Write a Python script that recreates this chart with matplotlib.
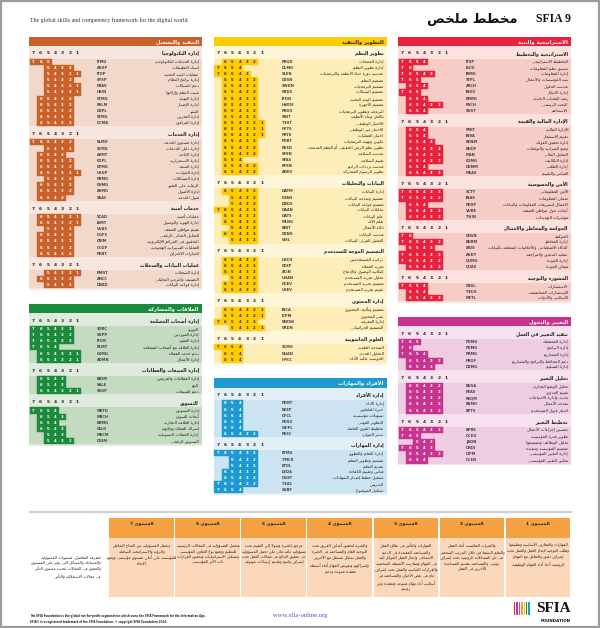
import textwrap
import matplotlib
matplotlib.use("Agg")
import matplotlib.pyplot as plt
from matplotlib.patches import Rectangle

plt.rcParams['font.family'] = ['DejaVu Sans']

# ---------------- data ----------------
# (code, arabic name, lowest level, highest level)
tech_mgmt = [("ITMG", "إدارة الخدمات التكنولوجية", 5, 7), ("ASUP", "إسناد التطبيقات", 2, 5),
             ("ITOP", "عمليات البنية التحتية", 1, 5), ("SYSP", "إدارة برامج النظام", 2, 5),
             ("NTAS", "دعم الشبكات", 1, 5), ("HSIN", "تثبيت النظم وإزالتها", 1, 5),
             ("CFMG", "إدارة التهيئة", 2, 6), ("RELM", "إدارة الإصدار", 2, 6),
             ("DEPL", "النشر", 2, 6), ("STMG", "إدارة التخزين", 2, 6), ("DCMA", "إدارة المرافق", 2, 6)]
service_mgmt = [("SLMO", "إدارة مستوى الخدمة", 2, 7), ("SCMG", "إدارة دليل الخدمات", 2, 5),
                ("AVMT", "إدارة الإتاحة", 3, 6), ("COPL", "إدارة الاستمرارية", 2, 6),
                ("CPMG", "إدارة السعة", 2, 6), ("USUP", "إدارة الحوادث", 1, 6),
                ("PBMG", "إدارة المشكلات", 2, 5), ("CHMG", "الرقابة على التغيير", 2, 6),
                ("ASMG", "إدارة الأصول", 2, 6), ("SEAC", "قبول الخدمة", 3, 6)]
security_serv = [("SCAD", "عمليات أمنية", 1, 6), ("IAMT", "إدارة الهوية والوصول", 1, 6),
                 ("VUAS", "تقييم مواطن الضعف", 2, 5), ("DGFS", "التحليل الجنائي الرقمي", 2, 6),
                 ("CRIM", "التحقيق في الجرائم الإلكترونية", 2, 6), ("OCOP", "العمليات السيبرانية الهجومية", 2, 6),
                 ("PENT", "اختبارات الاختراق", 2, 6)]
data_records = [("RMGT", "إدارة السجلات", 1, 5), ("ANCC", "التصنيف والترميز التحليلي", 2, 6),
                ("DBAD", "إدارة قواعد البيانات", 2, 5)]

stakeholder = [("SORC", "التوريد", 2, 7), ("SUPP", "إدارة الموردين", 2, 7), ("ITCM", "إدارة العقود", 2, 7),
               ("RLMT", "إدارة العلاقة مع أصحاب المصلحة", 4, 7), ("CSMG", "دعم خدمة العملاء", 1, 6),
               ("ADMN", "إدارة الأعمال", 1, 6)]
sales_bid = [("BIDM", "إدارة العطاءات والعروض", 3, 6), ("SALE", "البيع", 3, 6), ("SSUP", "دعم المبيعات", 1, 6)]
marketing = [("MKTG", "إدارة التسويق", 4, 7), ("MRCH", "أبحاث السوق", 3, 6),
             ("BRMG", "إدارة العلامة التجارية", 4, 6), ("CELO", "إشراك العملاء وولائهم", 3, 6),
             ("MKCM", "إدارة الحملات التسويقية", 3, 5), ("DIGM", "التسويق الرقمي", 2, 5)]

sys_dev = [("PROD", "إدارة المنتجات", 2, 6), ("DLMG", "إدارة تطوير النظم", 4, 7),
           ("SLEN", "هندسة دورة حياة الأنظمة والبرمجيات", 3, 7), ("DESN", "تصميم النظم", 2, 6),
           ("SWDN", "تصميم البرمجيات", 2, 6), ("NTDS", "تصميم الشبكات", 2, 6),
           ("IFDN", "تصميم البنية التحتية", 2, 6), ("HWDE", "تصميم الأجهزة", 2, 6),
           ("PROG", "البرمجة وتطوير البرمجيات", 2, 6), ("SINT", "تكامل وبناء الأنظمة", 2, 6),
           ("TEST", "الاختبار الوظيفي", 1, 6), ("NFTS", "الاختبار غير الوظيفي", 1, 6),
           ("PRTS", "اختبار العمليات", 1, 6), ("PORT", "تكوين وتهيئة البرمجيات", 2, 6),
           ("RESD", "تطوير نظم الزمن الحقيقي أو النظم المدمجة", 2, 6), ("SFEN", "هندسة السلامة", 2, 6),
           ("SFAS", "تقييم السلامة", 4, 6), ("RFEN", "هندسة ترددات الراديو", 2, 6),
           ("ADEV", "تطوير الرسوم المتحركة", 2, 6)]
data_analytics = [("DATM", "إدارة البيانات", 2, 6), ("DTAN", "تصميم ونمذجة البيانات", 2, 5),
                  ("DBDS", "تصميم قواعد البيانات", 2, 5), ("DAAN", "تحليلات البيانات", 2, 7),
                  ("DATS", "علم البيانات", 2, 6), ("MLNG", "تعلم الآلة", 2, 6),
                  ("BINT", "ذكاء الأعمال", 2, 5), ("DENG", "هندسة البيانات", 2, 6),
                  ("VISL", "التمثيل المرئي للبيانات", 2, 5)]
user_design = [("URCH", "دراسة المستخدمين", 2, 6), ("CEXP", "تجربة العملاء", 2, 6),
               ("ACIN", "إمكانية الوصول والإدماج", 2, 6), ("UNAN", "تحليل تجربة المستخدم", 2, 5),
               ("HCEV", "تصميم تجربة المستخدم", 2, 6), ("USEV", "تقييم تجربة المستخدم", 2, 6)]
content_mgmt = [("INCA", "تصميم وتأليف المحتوى", 1, 6), ("ICPM", "نشر المحتوى", 1, 6),
                ("KNOW", "إدارة المعرفة", 2, 7), ("GRDN", "التصميم الجرافيكي", 1, 5)]
comp_science = [("SCMO", "النمذجة العلمية", 4, 7), ("NUAN", "التحليل العددي", 4, 6),
                ("HPCC", "الحوسبة عالية الأداء", 4, 6)]

people_mgmt = [("PEMT", "إدارة الأداء", 4, 6), ("EEXP", "خبرة العاملين", 4, 6),
               ("OFCL", "تسهيلات مؤسسية", 4, 6), ("PDSV", "التطوير المهني", 4, 6),
               ("WFPL", "تخطيط القوى العاملة", 4, 6), ("RESC", "تدبير الموارد", 2, 6)]
skill_mgmt = [("ETMG", "إدارة التعلم والتطوير", 2, 7), ("TMCR", "تصميم وتطوير التعلم", 2, 5),
              ("ETDL", "تقديم التعلم", 2, 5), ("LEDA", "قياس وتقييم الكفاءة", 2, 6),
              ("CSOP", "تشغيل خطط إصدار الشهادات", 2, 6), ("TEAC", "التدريس", 2, 7),
              ("SUBF", "تشكيل الموضوع", 4, 7)]

strat_plan = [("ITSP", "التخطيط الاستراتيجي", 4, 7), ("ISCO", "تنسيق نظم المعلومات", 6, 7),
              ("IRMG", "إدارة المعلومات", 3, 7), ("STPL", "بنية المؤسسات والأعمال", 5, 7),
              ("ARCH", "هندسة الحلول", 4, 6), ("INOV", "إدارة الابتكار", 5, 7),
              ("EMRG", "رصد التقنيات الناشئة", 4, 6), ("RSCH", "البحث الرسمي", 2, 6),
              ("SUST", "الاستدامة", 4, 6)]
fin_value = [("FMIT", "الإدارة المالية", 4, 6), ("INVA", "تقييم الاستثمار", 4, 6),
             ("BENM", "إدارة تحقيق الفوائد", 3, 6), ("BUDF", "وضع الميزانية والتوقعات", 2, 6),
             ("FIAN", "التحليل المالي", 2, 6), ("COMG", "إدارة التكاليف", 2, 6),
             ("DEMM", "إدارة الطلب", 4, 6), ("MEAS", "القياس والتقييم", 2, 6)]
sec_privacy = [("SCTY", "الأمن المعلوماتي", 2, 7), ("INAS", "ضمان المعلومات", 2, 7),
               ("PEDP", "الامتثال لتشريعات المعلومات والبيانات", 4, 6),
               ("VURE", "أبحاث حول مواطن الضعف", 2, 6), ("THIN", "مؤشرات التهديدات", 2, 6)]
gov_risk = [("GOVN", "الحوكمة", 6, 7), ("BURM", "إدارة المخاطر", 2, 7),
            ("AIDE", "الذكاء الاصطناعي والأخلاقيات المتعلقة بالبيانات", 3, 6),
            ("AUDT", "عملية التدقيق والمراجعة", 2, 7), ("QUMG", "إدارة الجودة", 2, 7),
            ("QUAS", "ضمان الجودة", 2, 6)]
advice = [("CNSL", "الاستشارات", 4, 7), ("TECH", "الاستشارات المتخصصة", 4, 6),
          ("METL", "الأساليب والأدوات", 2, 6)]

change_impl = [("POMG", "إدارة المحفظة", 5, 7), ("PGMG", "إدارة البرامج", 6, 7),
               ("PRMG", "إدارة المشاريع", 4, 7), ("PROF", "دعم المحافظ والبرامج والمشاريع", 2, 6),
               ("DEMG", "إدارة التسليم", 3, 6)]
change_anal = [("BUSA", "تحليل الوضع التجاري", 2, 6), ("FEAS", "تقييم الجدوى", 2, 6),
               ("REQM", "تحديد وإدارة الاحتياجات", 2, 6), ("BSMO", "نمذجة الأعمال", 2, 6),
               ("BPTS", "اختبار قبول المستخدم", 2, 6)]
change_plan = [("BPRE", "تحسين إجراءات الأعمال", 2, 7), ("OCDV", "تطوير قدرة المؤسسة", 5, 7),
               ("JADN", "تحليل الوظائف وتصميمها", 3, 5), ("ORDI", "تصميم المؤسسة وتنفيذه", 3, 7),
               ("CIPM", "إدارة التغيير المؤسسي", 2, 6), ("OCEN", "تمكين التغيير المؤسسي", 4, 6)]

level_nums = [7, 6, 5, 4, 3, 2, 1]
level_desc = [
    "وتحمل المسؤولية عن النجاح الشامل والرؤية والاستراتيجية الشاملة للمؤسسة على أعلى مستوى مؤسسي ووضع الاتجاه",
    "وتحمل المسؤولية في المجالات الرئيسية للتنظيم ووضع نوع التعاون المؤسسي وتشكيل الاستراتيجيات وتحقيق القرارات ذات الأثر المؤسسي",
    "مرجع بالخبرة وصولا إلى التقييم تحت مسؤولية عامة قادر على تحمل المسؤولية في تحقيق النتائج في مجالات العمل تحت إشراف واسع وتقديم إرشادات موثوقة",
    "والخبرة لتحقيق أهداف الفريق تحت التوجيه العام والمساهمة في الخبرة والعمل بشكل مستقل مع الآخرين وإشراكهم وتفويض المهام أثناء أنشطة معقدة متنوعة ودعم",
    "المهارات والتأثير في نطاق العمل والمساهمة المعتمدة في الدعم الاستباقي وإنجاز العمل الموكل إليه في المهام وممارسة الأنشطة الشخصية والقرارات القياسية والعمل تحت إشراف عام في بعض الأحيان والمساهمة في أساليب أداء مهام متنوعة ومعقدة وغير روتينية",
    "والخبرات المكتسبة أثناء العمل والتعلم النشط من خلال التدريب الشخصي في حل المشكلات الروتينية تحت إشراف روتيني والمساهمة بتقديم المساعدة للآخرين في العمل",
    "المهارات والمعارف الأساسية وتطبيقها وطلب التوجيه لإنجاز العمل والعمل تحت إشراف دقيق والتعامل مع المهام الروتينية أثناء أداء المهام الوظيفية",
]
levels_note = "لمعرفة التفاصيل، مستويات المسؤولية والمساءلة والمسائل التي تؤثر على المستوى والتعمق في المجالات لتحديد مستوى التأثير في مجالات الاستقلالية والتأثير"

# ---------------- arabic shaping (matplotlib does no joining / bidi) ----------------
_letters = "ءآأؤإئابةتثجحخدذرزسشصضطظعغفقكلمنهوىي"
_nforms = [1, 2, 2, 2, 2, 4, 2, 4, 2, 4, 4, 4, 4, 4, 2, 2, 2, 2, 4, 4,
           4, 4, 4, 4, 4, 4, 4, 4, 4, 4, 4, 4, 4, 2, 2, 4]
FORMS = {}
_b = 0xFE80
for _c, _n in zip(_letters, _nforms):
    FORMS[_c] = (_b, _n)
    _b += _n
LAMALEF = {"آ": 0xFEF5, "أ": 0xFEF7, "إ": 0xFEF9, "ا": 0xFEFB}


def ar(s):
    res = []
    i = 0
    n = len(s)
    while i < n:
        c = s[i]
        if c not in FORMS:
            res.append(c)
            i += 1
            continue
        prev = s[i - 1] if i > 0 else ''
        cprev = prev in FORMS and FORMS[prev][1] == 4
        if c == 'ل' and i + 1 < n and s[i + 1] in LAMALEF:
            res.append(chr(LAMALEF[s[i + 1]] + (1 if cprev else 0)))
            i += 2
            continue
        nxt = s[i + 1] if i + 1 < n else ''
        base, cnt = FORMS[c]
        cnext = cnt == 4 and nxt in FORMS and FORMS[nxt][1] > 1
        if cnt == 1:
            f = 0
        elif cprev and cnext:
            f = 3
        elif cprev:
            f = 1
        elif cnext:
            f = 2
        else:
            f = 0
        res.append(chr(base + f))
        i += 1
    return ''.join(res[::-1])


# ---------------- figure ----------------
fig = plt.figure(figsize=(6, 6.28), dpi=100)
ax = fig.add_axes([0, 0, 1, 1])
ax.set_xlim(0, 600)
ax.set_ylim(628, 0)
ax.axis('off')

ax.add_patch(Rectangle((0.8, 0.8), 598.4, 626.4, fill=False, ec='#9b9b9b', lw=1.6))

ax.text(571, 19, "SFIA 9", ha='right', va='center', fontsize=8.5, family='Liberation Serif',
        fontweight='bold', color='#111')
ax.text(518, 19, ar("مخطط ملخص"), ha='right', va='center', fontsize=9.5, fontweight='bold', color='#111')
ax.text(30, 20, "The global skills and competency framework for the digital world", ha='left', va='center',
        fontsize=4.2, family='Liberation Serif', color='#333')

PITCH = 6.13
CELL = 7.3
W = 173


def draw_panel(x0, top, title, pal, groups):
    head, band, light, tcol = pal
    y = top + 9.5 + 7.5
    layout = []
    for gname, rows in groups:
        first = y + 8.3
        last = first + (len(rows) - 1) * PITCH
        layout.append((gname, rows, y, first, last))
        y = last + 11
    bottom = layout[-1][4] + 5
    ax.add_patch(Rectangle((x0, top + 9.5), W, bottom - top - 9.5, color=light, lw=0))
    ax.add_patch(Rectangle((x0, top), W, 9.5, color=head, lw=0))
    ax.text(x0 + W - 3, top + 4.9, ar(title), ha='right', va='center', fontsize=3.8,
            color=tcol, fontweight='bold')
    for gname, rows, sub, first, last in layout:
        ax.add_patch(Rectangle((x0, first - PITCH / 2), W, last - first + PITCH, color=band, lw=0))
        for k, lv in enumerate(level_nums):
            ax.text(x0 + 0.7 + (k + 0.5) * CELL, sub, str(lv), ha='center', va='center',
                    fontsize=3.2, fontweight='bold', color='#222')
        ax.text(x0 + W - 3, sub, ar(gname), ha='right', va='center', fontsize=3.3,
                fontweight='bold', color='#222')
        for j, (code, name, lo, hi) in enumerate(rows):
            yc = first + j * PITCH
            for lv in range(lo, hi + 1):
                k = level_nums.index(lv)
                cx = x0 + 0.7 + k * CELL
                ax.add_patch(Rectangle((cx, yc - PITCH / 2), CELL, PITCH, fc=head, ec=head, lw=0.3))
                ax.text(cx + CELL / 2, yc, str(lv), ha='center', va='center', fontsize=2.8,
                        fontweight='bold', color='white' if tcol == 'white' else '#333')
            ax.text(x0 + 68, yc, code, ha='left', va='center', fontsize=2.6, fontweight='bold', color='#444')
            ax.text(x0 + W - 3, yc, ar(name), ha='right', va='center', fontsize=3.0, color='#222')
    return bottom


RED = ('#E8213D', '#F8CCC6', '#FBE2DE', 'white')
YEL = ('#FFCB05', '#FFEDB8', '#FFF5D8', '#222')
ORG = ('#C8622A', '#F1D8CB', '#F6E6DD', 'white')
GRN = ('#1C8A3B', '#C4DAC1', '#DFEBDD', 'white')
BLU = ('#1E9AD0', '#CCE3F1', '#E2EFF7', 'white')
MAG = ('#C7348F', '#EECCE2', '#F6E2EF', 'white')

GAP = 13.5
b = draw_panel(29, 36.5, "التنفيذ والتشغيل", ORG,
               [("إدارة التكنولوجيا", tech_mgmt), ("إدارة الخدمات", service_mgmt),
                ("خدمات أمنية", security_serv), ("عمليات البيانات والسجلات", data_records)])
draw_panel(29, b + GAP, "العلاقات والمشاركة", GRN,
           [("إدارة أصحاب المصلحة", stakeholder), ("إدارة المبيعات والعطاءات", sales_bid),
            ("التسويق", marketing)])

b = draw_panel(213.5, 36.5, "التطوير والتنفيذ", YEL,
               [("تطوير النظم", sys_dev), ("البيانات والتحليلات", data_analytics),
                ("التصميم الموجه للمستخدم", user_design), ("إدارة المحتوى", content_mgmt),
                ("العلوم الحاسوبية", comp_science)])
draw_panel(213.5, b + GAP, "الأفراد والمهارات", BLU,
           [("إدارة الأفراد", people_mgmt), ("إدارة المهارات", skill_mgmt)])

b = draw_panel(398, 36.5, "الاستراتيجية والبنية", RED,
               [("الاستراتيجية والتخطيط", strat_plan), ("الإدارة المالية والقيمة", fin_value),
                ("الأمن والخصوصية", sec_privacy), ("الحوكمة والمخاطر والامتثال", gov_risk),
                ("المشورة والتوجيه", advice)])
draw_panel(398, b + GAP, "التغيير والتحول", MAG,
           [("تنفيذ التغيير في العمل", change_impl), ("تحليل التغيير", change_anal),
            ("تخطيط التغيير", change_plan)])

# ---------------- levels of responsibility ----------------
ax.plot([30, 571], [511.5, 511.5], color='#cfcfcf', lw=1.6)
tx0, tx1 = 108.8, 571
cw = (tx1 - tx0) / len(level_nums)
for k, (lv, desc) in enumerate(zip(level_nums, level_desc)):
    x = tx0 + k * cw
    ax.add_patch(Rectangle((x + 0.6, 518), cw - 1.2, 20, color='#F5A142', lw=0))
    ax.add_patch(Rectangle((x + 0.6, 538), cw - 1.2, 59, color='#FCD7BA', lw=0))
    ax.text(x + cw / 2, 523.5, ar("المستوى %d" % lv), ha='center', va='center', fontsize=3.2,
            fontweight='bold', color='#222')
    lines = [ar(t) for t in textwrap.wrap(desc, 36)]
    ax.text(x + cw / 2, 543.5, "\n".join(lines), ha='center', va='top', fontsize=2.7,
            linespacing=1.45, color='#222')

note = [ar(t) for t in textwrap.wrap(levels_note, 40)]
ax.text(101, 567, "\n".join(note), ha='right', va='center', fontsize=2.7, linespacing=1.45,
        multialignment='right', color='#222')

# ---------------- footer ----------------
ax.text(30, 616, "The SFIA Foundation is the global not-for-profit organisation which owns the SFIA Framework for the Information Age.",
        ha='left', va='center', fontsize=1.9, fontweight='bold', color='#222')
ax.text(30, 621.5, "SFIA\u00ae is a registered trademark of the SFIA Foundation. \u00a9 copyright SFIA Foundation 2024.",
        ha='left', va='center', fontsize=1.9, fontweight='bold', color='#222')
ax.text(300, 615.5, "www.sfia-online.org", ha='center', va='center', fontsize=4.8,
        family='Liberation Serif', color='#4f4fd0')

bar_cols = ['#E8213D', '#C7348F', '#E0457B', '#F5A142', '#FFCB05', '#1C8A3B', '#1E9AD0']
for i, c in enumerate(bar_cols):
    ax.add_patch(Rectangle((514 + i * 2.4, 602), 1.4, 13, color=c, lw=0))
ax.text(571, 609, "SFIA", ha='right', va='center', fontsize=11, family='Liberation Serif',
        fontweight='bold', color='#111')
ax.text(571, 620.5, "FOUNDATION", ha='right', va='center', fontsize=2.9, fontweight='bold', color='#111')

fig.savefig("out.png", dpi=100)
